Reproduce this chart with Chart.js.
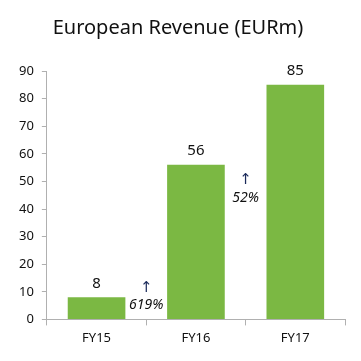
<!DOCTYPE html>
<html>
<head>
<meta charset="utf-8">
<script src="https://cdn.jsdelivr.net/npm/chart.js@4/dist/chart.umd.min.js"></script>
<style>
  html, body { margin: 0; padding: 0; background: #fff; }
  #wrap { width: 361px; height: 361px; }
</style>
</head>
<body>
<div id="wrap"><canvas id="revChart"></canvas></div>
<script>
const categories = ['FY15', 'FY16', 'FY17'];
const revenue = [8, 56, 85];
const growthLabels = ['619%', '52%'];
const yTicks = [0, 10, 20, 30, 40, 50, 60, 70, 80, 90];

const fontFamily = '"Noto Sans", "DejaVu Sans", sans-serif';
const axisColor = '#b0b0b0';

// Draws value labels above bars and the growth arrows between bars
const labelPlugin = {
    id: 'labels',
    afterDatasetsDraw(chart) {
        const ctx = chart.ctx;
        const meta = chart.getDatasetMeta(0);
        const xScale = chart.scales.x;
        const yScale = chart.scales.y;
        ctx.save();
        ctx.fillStyle = '#111';
        ctx.textAlign = 'center';
        ctx.textBaseline = 'middle';
        ctx.font = '15px ' + fontFamily;
        meta.data.forEach((bar, i) => {
            ctx.fillText(String(revenue[i]), bar.x, bar.y - 14);
        });
        // growth annotations sit on the category boundary, below the top of the left bar
        growthLabels.forEach((txt, i) => {
            const x = (xScale.getPixelForValue(i) + xScale.getPixelForValue(i + 1)) / 2;
            const y = Math.min(yScale.getPixelForValue(revenue[i]) + 15, chart.chartArea.bottom - 32);
            ctx.font = '15px ' + fontFamily;
            ctx.fillStyle = '#1a2a5a';
            ctx.fillText('\u2191', x, y);
            ctx.fillStyle = '#111';
            ctx.font = 'italic 14px ' + fontFamily;
            ctx.fillText(txt, x, y + 18);
        });
        ctx.restore();
    }
};

const ctx = document.getElementById('revChart').getContext('2d');
new Chart(ctx, {
    type: 'bar',
    data: {
        labels: categories,
        datasets: [{
            data: revenue,
            backgroundColor: '#7bb843',
            borderWidth: 0,
            categoryPercentage: 1,
            barPercentage: 0.58
        }]
    },
    options: {
        responsive: true,
        maintainAspectRatio: false,
        animation: false,
        layout: { padding: { left: 11, right: 16, bottom: 10 } },
        plugins: {
            legend: { display: false },
            tooltip: { enabled: false },
            title: {
                display: true,
                text: 'European Revenue (EURm)',
                color: '#111',
                font: { family: fontFamily, size: 20, weight: 'normal' },
                padding: { top: 16, bottom: 31 }
            }
        },
        scales: {
            x: {
                grid: {
                    offset: true,
                    drawOnChartArea: false,
                    color: axisColor,
                    tickLength: 6
                },
                border: { color: axisColor },
                ticks: { color: '#111', font: { family: fontFamily, size: 13 }, padding: 5 }
            },
            y: {
                min: 0,
                max: 90,
                afterBuildTicks(scale) {
                    scale.ticks = yTicks.map(v => ({ value: v }));
                },
                grid: {
                    drawOnChartArea: false,
                    color: axisColor,
                    tickLength: 5
                },
                border: { color: axisColor },
                ticks: { color: '#111', font: { family: fontFamily, size: 13 }, padding: 8 }
            }
        }
    },
    plugins: [labelPlugin]
});
</script>
</body>
</html>
